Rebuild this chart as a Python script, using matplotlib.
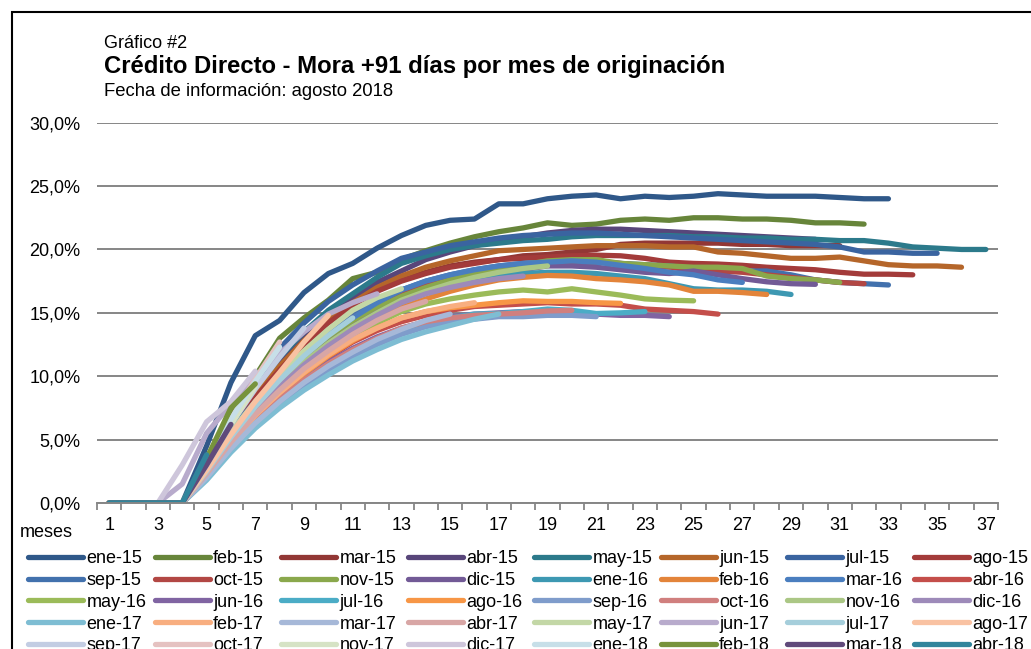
import matplotlib
matplotlib.use("Agg")
import matplotlib.pyplot as plt
from matplotlib.patches import Rectangle
from matplotlib.ticker import FuncFormatter, MultipleLocator

plt.rcParams['font.family'] = ['Liberation Sans', 'DejaVu Sans']

# mora +91 dias (%) por mes desde originacion, una lista por cosecha
ene_15 = [0, 0, 0, 0, 4.5, 9.5, 13.2, 14.4, 16.6, 18.1, 18.9, 20.1, 21.1, 21.9, 22.3, 22.4, 23.6, 23.6,
          24.0, 24.2, 24.3, 24.0, 24.2, 24.1, 24.2, 24.4, 24.3, 24.2, 24.2, 24.2, 24.1, 24.0, 24.0]
feb_15 = [0, 0, 0, 0, 3.5, 7.0, 10.0, 13.0, 14.6, 16.0, 17.7, 18.2, 19.2, 19.9, 20.5, 21.0, 21.4, 21.7,
          22.1, 21.9, 22.0, 22.3, 22.4, 22.3, 22.5, 22.5, 22.4, 22.4, 22.3, 22.1, 22.1, 22.0]
mar_15 = [0, 0, 0, 0, 3.0, 6.0, 8.5, 10.8, 12.8, 14.6, 15.8, 16.8, 17.6, 18.2, 18.7, 19.0, 19.2, 19.5,
          19.6, 19.8, 20.0, 20.4, 20.5, 20.5, 20.5, 20.5, 20.4, 20.4, 20.3, 20.3, 20.3]
abr_15 = [0, 0, 0, 0, 3.0, 6.0, 8.8, 11.0, 13.0, 14.8, 16.2, 17.4, 18.3, 19.2, 19.8, 20.3, 20.7, 21.0,
          21.3, 21.5, 21.6, 21.6, 21.5, 21.4, 21.3, 21.2, 21.1, 21.0, 20.9, 20.8]
may_15 = [0, 0, 0, 0, 3.0, 6.2, 9.0, 11.5, 13.5, 15.2, 16.5, 17.8, 18.9, 19.5, 20.0, 20.3, 20.5, 20.7,
          20.8, 21.0, 21.1, 21.1, 21.1, 21.1, 21.0, 21.0, 20.9, 20.9, 20.8, 20.8, 20.7, 20.7, 20.5, 20.2,
          20.1, 20.0, 20.0]
jun_15 = [0, 0, 0, 0, 2.0, 5.5, 8.5, 10.8, 12.8, 14.5, 15.8, 17.0, 17.9, 18.6, 19.1, 19.5, 19.9, 20.0,
          20.1, 20.2, 20.3, 20.3, 20.3, 20.2, 20.2, 19.8, 19.7, 19.5, 19.3, 19.3, 19.4, 19.1, 18.8, 18.7,
          18.7, 18.6]
jul_15 = [0, 0, 0, 0, 3.2, 6.5, 9.5, 12.2, 14.2, 15.9, 17.2, 18.3, 19.3, 19.8, 20.3, 20.6, 20.9, 21.1,
          21.2, 21.3, 21.3, 21.2, 21.1, 21.0, 20.9, 20.8, 20.7, 20.6, 20.5, 20.4, 20.2, 19.8, 19.8, 19.7,
          19.7]
ago_15 = [0, 0, 0, 0, 2.8, 5.8, 8.3, 10.5, 12.5, 14.2, 15.6, 16.7, 17.5, 18.1, 18.6, 18.9, 19.2, 19.3,
          19.4, 19.5, 19.55, 19.5, 19.3, 19.0, 18.9, 18.85, 18.75, 18.6, 18.5, 18.4, 18.2, 18.05, 18.05, 18.0]
sep_15 = [0, 0, 0, 0, 3.0, 5.8, 8.0, 10.0, 11.8, 13.4, 14.8, 15.9, 16.8, 17.5, 18.0, 18.4, 18.7, 18.9,
          19.0, 19.0, 19.0, 18.9, 18.8, 18.7, 18.5, 18.4, 18.3, 18.3, 18.0, 17.6, 17.4, 17.3, 17.2]
oct_15 = [0, 0, 0, 0, 2.8, 5.5, 7.8, 9.8, 11.6, 13.2, 14.6, 15.7, 16.6, 17.3, 17.9, 18.3, 18.6, 18.8,
          18.9, 19.0, 19.0, 18.9, 18.7, 18.6, 18.5, 18.3, 18.2, 18.0, 17.8, 17.6, 17.4, 17.3]
nov_15 = [0, 0, 0, 0, 2.6, 5.3, 7.6, 9.6, 11.3, 12.9, 14.3, 15.4, 16.3, 17.0, 17.6, 18.1, 18.5, 18.8,
          19.1, 19.2, 19.2, 18.9, 18.8, 18.7, 18.6, 18.6, 18.5, 17.9, 17.7, 17.6, 17.4]
dic_15 = [0, 0, 0, 0, 2.6, 5.2, 7.5, 9.4, 11.1, 12.6, 13.9, 15.0, 15.9, 16.6, 17.2, 17.7, 18.1, 18.4,
          18.7, 18.7, 18.6, 18.4, 18.2, 18.1, 18.3, 18.0, 17.7, 17.45, 17.3, 17.25]
ene_16 = [0, 0, 0, 0, 2.5, 5.0, 7.2, 9.1, 10.8, 12.3, 13.6, 14.8, 15.8, 16.6, 17.2, 17.6, 17.9, 18.1,
          18.2, 18.2, 18.1, 17.9, 17.7, 17.3, 16.9, 16.8, 16.8, 16.7, 16.45]
feb_16 = [0, 0, 0, 0, 2.2, 4.8, 7.0, 8.9, 10.6, 12.1, 13.4, 14.5, 15.4, 16.1, 16.7, 17.2, 17.6, 17.8,
          17.95, 17.9, 17.7, 17.6, 17.45, 17.2, 16.7, 16.7, 16.6, 16.45]
mar_16 = [0, 0, 0, 0, 2.8, 5.6, 7.9, 9.9, 11.7, 13.3, 14.6, 15.8, 16.8, 17.5, 18.0, 18.4, 18.7, 18.9,
          19.0, 19.1, 19.0, 18.75, 18.5, 18.2, 18.0, 17.6, 17.4]
abr_16 = [0, 0, 0, 0, 2.4, 4.8, 6.9, 8.7, 10.2, 11.5, 12.7, 13.6, 14.3, 14.8, 15.2, 15.5, 15.6, 15.7,
          15.8, 15.7, 15.7, 15.6, 15.3, 15.2, 15.1, 14.9]
may_16 = [0, 0, 0, 0, 2.4, 4.9, 7.0, 8.8, 10.4, 11.9, 13.1, 14.2, 15.1, 15.7, 16.1, 16.4, 16.65, 16.8,
          16.65, 16.9, 16.65, 16.4, 16.1, 16.0, 15.95]
jun_16 = [0, 0, 0, 0, 2.3, 4.6, 6.6, 8.3, 9.8, 11.1, 12.2, 13.1, 13.8, 14.3, 14.7, 14.9, 15.0, 15.1,
          15.1, 15.0, 14.9, 14.8, 14.8, 14.7]
jul_16 = [0, 0, 0, 0, 2.0, 4.3, 6.3, 8.0, 9.5, 10.8, 11.9, 12.8, 13.6, 14.2, 14.6, 14.9, 14.95, 15.1,
          15.3, 15.2, 14.95, 15.0, 15.1]
ago_16 = [0, 0, 0, 0, 2.2, 4.6, 6.8, 8.6, 10.2, 11.6, 12.8, 13.8, 14.6, 15.1, 15.4, 15.6, 15.8, 15.95,
          15.9, 15.9, 15.8, 15.75]
sep_16 = [0, 0, 0, 0, 2.0, 4.2, 6.1, 7.8, 9.2, 10.5, 11.6, 12.5, 13.3, 13.9, 14.3, 14.5, 14.7, 14.7,
          14.8, 14.8, 14.7]
oct_16 = [0, 0, 0, 0, 2.2, 4.5, 6.5, 8.2, 9.7, 11.0, 12.1, 13.0, 13.8, 14.3, 14.6, 14.8, 14.9, 15.0,
          15.15, 15.2]
nov_16 = [0, 0, 0, 0, 2.6, 5.2, 7.4, 9.4, 11.1, 12.6, 13.9, 15.0, 16.0, 16.7, 17.3, 17.8, 18.2, 18.5, 18.7]
dic_16 = [0, 0, 0, 0, 2.5, 5.0, 7.2, 9.2, 10.9, 12.4, 13.7, 14.8, 15.8, 16.5, 17.0, 17.4, 17.7, 17.9]
ene_17 = [0, 0, 0, 0, 1.8, 4.0, 5.9, 7.5, 8.9, 10.1, 11.2, 12.1, 12.9, 13.5, 14.0, 14.5, 14.9]
feb_17 = [0, 0, 0, 0, 2.2, 4.7, 6.9, 8.7, 10.3, 11.7, 12.9, 13.8, 14.6, 15.1, 15.5, 15.8]
mar_17 = [0, 0, 0, 0, 2.0, 4.3, 6.3, 8.0, 9.5, 10.8, 11.9, 12.9, 13.7, 14.4, 14.9]
abr_17 = [0, 0, 0, 0, 2.3, 4.8, 7.0, 8.9, 10.6, 12.0, 13.3, 14.4, 15.3, 15.9]
may_17 = [0, 0, 0, 0, 2.8, 5.6, 8.0, 10.1, 12.0, 13.7, 15.2, 16.2, 16.9]
jun_17 = [0, 0, 0, 1.5, 5.5, 7.8, 9.9, 11.8, 13.5, 14.9, 15.8, 16.5]
jul_17 = [0, 0, 0, 0, 2.5, 5.2, 7.6, 9.7, 11.6, 13.2, 14.6]
ago_17 = [0, 0, 0, 0, 2.6, 5.4, 8.0, 10.3, 12.7, 14.8]
sep_17 = [0, 0, 0, 0, 3.0, 6.2, 9.0, 11.5, 13.8]
oct_17 = [0, 0, 0, 0, 3.2, 6.6, 9.8, 12.7]
nov_17 = [0, 0, 0, 0, 3.0, 6.2, 9.2]
dic_17 = [0, 0, 0, 3.0, 6.4, 8.0, 10.4]
ene_18 = [0, 0, 0, 0, 3.4, 6.6, 9.6, 12.3]
feb_18 = [0, 0, 0, 0, 3.5, 7.5, 9.4]
mar_18 = [0, 0, 0, 0, 3.0, 6.2]
abr_18 = [0, 0, 0, 0, 3.8]

series = [ene_15, feb_15, mar_15, abr_15, may_15, jun_15, jul_15, ago_15,
          sep_15, oct_15, nov_15, dic_15, ene_16, feb_16, mar_16, abr_16,
          may_16, jun_16, jul_16, ago_16, sep_16, oct_16, nov_16, dic_16,
          ene_17, feb_17, mar_17, abr_17, may_17, jun_17, jul_17, ago_17,
          sep_17, oct_17, nov_17, dic_17, ene_18, feb_18, mar_18, abr_18]

labels = ['ene-15', 'feb-15', 'mar-15', 'abr-15', 'may-15', 'jun-15', 'jul-15', 'ago-15',
          'sep-15', 'oct-15', 'nov-15', 'dic-15', 'ene-16', 'feb-16', 'mar-16', 'abr-16',
          'may-16', 'jun-16', 'jul-16', 'ago-16', 'sep-16', 'oct-16', 'nov-16', 'dic-16',
          'ene-17', 'feb-17', 'mar-17', 'abr-17', 'may-17', 'jun-17', 'jul-17', 'ago-17',
          'sep-17', 'oct-17', 'nov-17', 'dic-17', 'ene-18', 'feb-18', 'mar-18', 'abr-18']

colors = ['#2F5889', '#67853A', '#923735', '#58467A', '#2C7A8B', '#B5662A', '#3A64A0', '#A33B3A',
          '#4271AD', '#B24744', '#8AA84C', '#725A96', '#3D98B2', '#E3843A', '#4A7EBF', '#C44E4A',
          '#9BBB59', '#8064A2', '#4BACC6', '#F79646', '#7F9CCB', '#D07F7E', '#ABC785', '#9D8AB9',
          '#7EBDD3', '#F8AE80', '#A6B8D8', '#D8A6A5', '#C3D7A6', '#B8ABCC', '#A5CEDB', '#F9C2A2',
          '#C3CDE3', '#E5C2C1', '#D6E3C5', '#CEC6DB', '#C7DFE8', '#77933C', '#604A7B', '#31859C']

n_meses = 37
W, H = 1031, 649

fig = plt.figure(figsize=(W / 100, H / 100), dpi=100)
ax = fig.add_axes([97 / W, (H - 503) / H, (998 - 97) / W, (503 - 122.7) / H])

lines = []
for vals, lab, col in zip(series, labels, colors):
    meses = list(range(1, len(vals) + 1))
    ln, = ax.plot(meses, vals, color=col, lw=3.8, label=lab,
                  solid_capstyle='round', solid_joinstyle='round')
    lines.append(ln)

ax.set_xlim(0.5, n_meses + 0.5)
ax.set_ylim(0, 30)
ax.yaxis.set_major_locator(MultipleLocator(5))
ax.yaxis.set_major_formatter(FuncFormatter(lambda v, p: f'{v:.1f}%'.replace('.', ',')))
ax.set_xticks(range(1, n_meses + 1, 2))
ax.set_xticks([m + 0.5 for m in range(0, n_meses + 1)], minor=True)
ax.tick_params(axis='x', which='major', length=0, pad=10, labelsize=13)
ax.tick_params(axis='x', which='minor', length=5, width=1.3, color='#868686', direction='out')
ax.tick_params(axis='y', length=0, pad=12, labelsize=13)
ax.grid(axis='y', color='#868686', lw=1.4)
ax.set_axisbelow(True)
for s in ['left', 'right', 'top']:
    ax.spines[s].set_visible(False)
ax.spines['bottom'].set_color('#868686')
ax.spines['bottom'].set_linewidth(1.4)

fig.text(20 / W, 1 - 537 / H, 'meses', fontsize=13, va='baseline')

fig.text(104 / W, 1 - 48 / H, 'Gráfico #2', fontsize=13, va='baseline')
fig.text(104 / W, 1 - 73 / H, 'Crédito Directo - Mora +91 días por mes de originación',
         fontsize=17.2, fontweight='bold', va='baseline')
fig.text(104 / W, 1 - 96 / H, 'Fecha de información: agosto 2018', fontsize=13.3, va='baseline')

# legend: 8 columns filled row by row, one legend per column
for c in range(8):
    idx = list(range(c, len(lines), 8))
    leg = fig.legend([lines[i] for i in idx], [labels[i] for i in idx],
                     loc='upper left', bbox_to_anchor=((28 + 126.5 * c) / W, 1 - 550 / H),
                     frameon=False, fontsize=13, handlelength=3.05, handletextpad=0.2,
                     labelspacing=0.27, borderpad=0, borderaxespad=0)

# chart frame
fig.patches.append(Rectangle((12 / W, -0.1), 1.2, 1 - 12 / H + 0.1, transform=fig.transFigure,
                             fill=False, edgecolor='black', lw=1.5))

fig.savefig('out.png', dpi=100)
